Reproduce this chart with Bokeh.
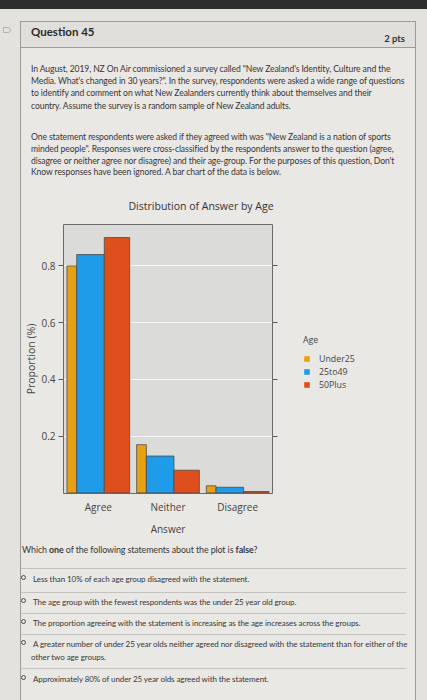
from bokeh.plotting import figure
from bokeh.models import (Div, FactorRange, Range1d, LinearAxis, FixedTicker,
                          Legend, LegendItem, ColumnDataSource)
from bokeh.layouts import column, row
from bokeh.transform import dodge
from bokeh.embed import file_html
from bokeh.resources import INLINE

# ---------------- data ----------------
answers = ["Agree", "Neither", "Disagree"]
age_groups = ["Under25", "25to49", "50Plus"]
under25 = [0.80, 0.17, 0.025]
age25to49 = [0.84, 0.13, 0.02]
age50plus = [0.90, 0.08, 0.005]
group_share = [0.155, 0.44, 0.405]   # share of respondents per age group (bar width)
y_ticks = [0.2, 0.4, 0.6, 0.8]
y_tick_labels = ["0.2", "0.4", "0.6", "0.8"]

para1 = [
    "In August, 2019, NZ On Air commissioned a survey called \"New Zealand's Identity, Culture and the",
    "Media. What's changed in 30 years?\". In the survey, respondents were asked a wide range of questions",
    "to identify and comment on what New Zealanders currently think about themselves and their",
    "country. Assume the survey is a random sample of New Zealand adults.",
]
para2 = [
    "One statement respondents were asked if they agreed with was \"New Zealand is a nation of sports",
    "minded people\". Responses were cross-classified by the respondents answer to the question (agree,",
    "disagree or neither agree nor disagree) and their age-group. For the purposes of this question, Don't",
    "Know responses have been ignored.  A bar chart of the data is below.",
]
options = [
    ["Less than 10% of each age group disagreed with the statement."],
    ["The age group with the fewest respondents was the under 25 year old group."],
    ["The proportion agreeing with the statement is increasing as the age increases across the groups."],
    ["A greater number of under 25 year olds neither agreed nor disagreed with the statement than for either of the",
     "other two age groups."],
    ["Approximately 80% of under 25 year olds agreed with the statement."],
]

# ---------------- styling ----------------
OUTER = "#E4E2DF"
CARD = "#EAE8E5"
HEAD = "#E1DFDB"
BORDER = "#9E9C99"
TXT = "#363636"
colors = ["#E9A114", "#1E9CE9", "#DF4F1D"]
BAR_LINE = "#4A4A4A"
W = 427


def abs_div(left, top, inner, style=""):
    return (f'<div style="position:absolute;left:{left}px;top:{top}px;'
            f'white-space:nowrap;{style}">{inner}</div>')


# ---------------- header block ----------------
hh = 188
parts = [f'<div style="position:relative;width:{W}px;height:{hh}px;overflow:hidden;'
         f'background:{OUTER};font-family:Lato, sans-serif;color:{TXT};">']
parts.append(f'<div style="position:absolute;left:0;top:0;width:{W}px;height:9px;background:#2E2E2E;"></div>')
parts.append('<div style="position:absolute;left:3px;top:27px;width:8px;height:6px;'
             'border:1.5px solid #B4B2AF;border-radius:0 5px 5px 0;"></div>')
parts.append(f'<div style="position:absolute;left:20px;top:21px;width:396px;height:{hh}px;'
             f'box-sizing:border-box;border:1px solid {BORDER};background:{CARD};"></div>')
parts.append(f'<div style="position:absolute;left:21px;top:22px;width:394px;height:26px;'
             f'background:{HEAD};border-bottom:1px solid {BORDER};"></div>')
parts.append(abs_div(31, 25, "Question 45",
                     "font-size:11.5px;font-weight:bold;line-height:14px;color:#2A2A2A;"))
parts.append(f'<div style="position:absolute;right:22px;top:33px;white-space:nowrap;'
             f'font-size:9.5px;font-weight:bold;line-height:12px;color:#333;">2 pts</div>')
for i, line in enumerate(para1):
    parts.append(abs_div(31, 63 + i * 12.2, line.replace('"', '&quot;'),
                         "font-size:8.6px;line-height:12px;letter-spacing:-0.1px;"))
for i, line in enumerate(para2):
    parts.append(abs_div(31, 130.7 + i * 11.9, line.replace('"', '&quot;'),
                         "font-size:8.6px;line-height:12px;letter-spacing:-0.1px;"))
parts.append('</div>')
header = Div(text="".join(parts), width=W, height=hh, margin=0)

# ---------------- chart ----------------
CH = 350
PW = 300
bg = (f"linear-gradient(to right, {OUTER} 0px, {OUTER} 20px, {BORDER} 20px, {BORDER} 21px, "
      f"{CARD} 21px, {CARD} {PW}px)")
p = figure(x_range=FactorRange(*answers, range_padding=0), y_range=Range1d(-0.002, 0.946),
           width=PW, height=CH, output_backend="svg", toolbar_location=None,
           min_border_left=63, min_border_right=28, min_border_top=33, min_border_bottom=40,
           background_fill_color="#DBDBD9", border_fill_color=CARD, border_fill_alpha=0,
           styles={"background": bg})

src = ColumnDataSource(dict(answer=answers, Under25=under25, a25to49=age25to49, a50Plus=age50plus))
cols = ["Under25", "a25to49", "a50Plus"]
group_width = 0.9
cum = 0.0
for i, name in enumerate(age_groups):
    w = group_width * group_share[i]
    off = -group_width / 2 + group_width * (cum + group_share[i] / 2)
    cum += group_share[i]
    p.vbar(x=dodge("answer", off, range=p.x_range), top=cols[i], width=w, bottom=0,
           source=src, fill_color=colors[i], line_color=BAR_LINE, line_width=0.8)

p.title.text = "Distribution of Answer by Age"
p.title.text_font = "Open Sans"
p.title.text_font_size = "10.5px"
p.title.text_font_style = "normal"
p.title.text_color = "#333333"
p.title.align = "left"
p.title.offset = 65
p.title.vertical_align = "top"
p.title.standoff = 20

p.outline_line_color = "#6A6A6A"
p.xgrid.grid_line_color = None
p.ygrid.ticker = FixedTicker(ticks=y_ticks)
p.ygrid.grid_line_color = "white"
p.ygrid.grid_line_alpha = 0.75

yax = p.yaxis[0]
yax.ticker = FixedTicker(ticks=y_ticks)
yax.major_label_overrides = {t: l for t, l in zip(y_ticks, y_tick_labels)}
yax.axis_line_color = None
yax.major_tick_out = 5
yax.major_tick_in = 0
yax.minor_tick_line_color = None
yax.major_tick_line_color = "#555555"
yax.major_label_standoff = 3
yax.major_label_text_font = "Open Sans"
yax.major_label_text_font_size = "10px"
yax.major_label_text_color = "#444444"
yax.axis_label = "Proportion (%)"
yax.axis_label_text_font = "Open Sans"
yax.axis_label_text_font_size = "10.5px"
yax.axis_label_text_font_style = "normal"
yax.axis_label_text_color = "#444444"
yax.axis_label_standoff = 0

rax = LinearAxis(ticker=FixedTicker(ticks=y_ticks), axis_line_color=None,
                 major_tick_out=5, major_tick_in=0, minor_tick_line_color=None,
                 major_tick_line_color="#555555",
                 major_label_overrides={t: "" for t in y_ticks},
                 major_label_standoff=0)
p.add_layout(rax, "right")

xax = p.xaxis[0]
xax.axis_line_color = None
xax.major_tick_line_color = None
xax.major_tick_out = 0
xax.major_label_standoff = 6
xax.major_label_text_font = "Open Sans"
xax.major_label_text_font_size = "10px"
xax.major_label_text_color = "#444444"
xax.axis_label = "Answer"
xax.axis_label_text_font = "Open Sans"
xax.axis_label_text_font_size = "10px"
xax.axis_label_text_font_style = "normal"
xax.axis_label_text_color = "#444444"
xax.axis_label_standoff = 5

# ---------------- legend (key) beside the panel ----------------
LW = W - PW
bg2 = (f"linear-gradient(to right, {CARD} 0px, {CARD} 115px, {BORDER} 115px, {BORDER} 116px, "
       f"{OUTER} 116px, {OUTER} {LW}px)")
# key plot: proxy bars (zero width, outside the value window) only feed the legend
pl = figure(width=LW, height=CH, x_range=FactorRange(*answers), y_range=Range1d(5, 6),
            output_backend="svg", toolbar_location=None,
            x_axis_location=None, y_axis_location=None,
            min_border_left=0, min_border_right=0, min_border_top=0, min_border_bottom=0,
            outline_line_color=None, background_fill_alpha=0, border_fill_alpha=0,
            styles={"background": bg2})
pl.grid.visible = False
key_renderers = [pl.vbar(x="answer", top=cols[i], bottom=0, width=0, source=src,
                         fill_color=colors[i], line_color=None)
                 for i in range(len(age_groups))]
legend = Legend(items=[LegendItem(label=n, renderers=[r]) for n, r in zip(age_groups, key_renderers)],
                title="Age", location=(3, 102), padding=4,
                glyph_width=7, glyph_height=7, label_height=13, label_standoff=9, spacing=0,
                label_text_font="Open Sans", label_text_font_size="8.8px", label_text_color="#444444",
                title_text_font="Open Sans", title_text_font_size="8.8px", title_text_font_style="normal",
                title_text_color="#444444", title_standoff=6,
                background_fill_alpha=0, border_line_color=None)
pl.add_layout(legend, "center")

chart_row = row(p, pl, spacing=0)

# ---------------- footer block ----------------
fh = 162
fp = [f'<div style="position:relative;width:{W}px;height:{fh}px;overflow:hidden;'
      f'background:{OUTER};font-family:Lato, sans-serif;color:{TXT};">']
fp.append(f'<div style="position:absolute;left:20px;top:-2px;width:396px;height:{fh + 4}px;'
          f'box-sizing:border-box;border:1px solid {BORDER};border-top:none;background:{CARD};"></div>')
fp.append(abs_div(22, 6, "Which <b>one</b> of the following statements about the plot is <b>false</b>?",
                  "font-size:8.9px;line-height:12px;letter-spacing:-0.1px;"))
for yy in [30, 54, 75, 96, 130]:
    fp.append(f'<div style="position:absolute;left:21px;top:{yy}px;width:385px;height:1px;background:#C4C2BF;"></div>')
centers = [41, 64, 85, 106, 141]
for opt, cy in zip(options, centers):
    fp.append(f'<div style="position:absolute;left:21px;top:{cy - 4}px;width:5px;height:5px;'
              f'border:1.4px solid #4A4A4A;border-radius:50%;"></div>')
    for j, line in enumerate(opt):
        fp.append(abs_div(33 if j == 0 else 31, cy - 6 + j * 13, line,
                          "font-size:8px;line-height:12px;letter-spacing:-0.08px;"))
fp.append('</div>')
footer = Div(text="".join(fp), width=W, height=fh, margin=0)

layout = column(header, chart_row, footer, spacing=0)
open("out.html", "w").write(file_html(layout, INLINE))
